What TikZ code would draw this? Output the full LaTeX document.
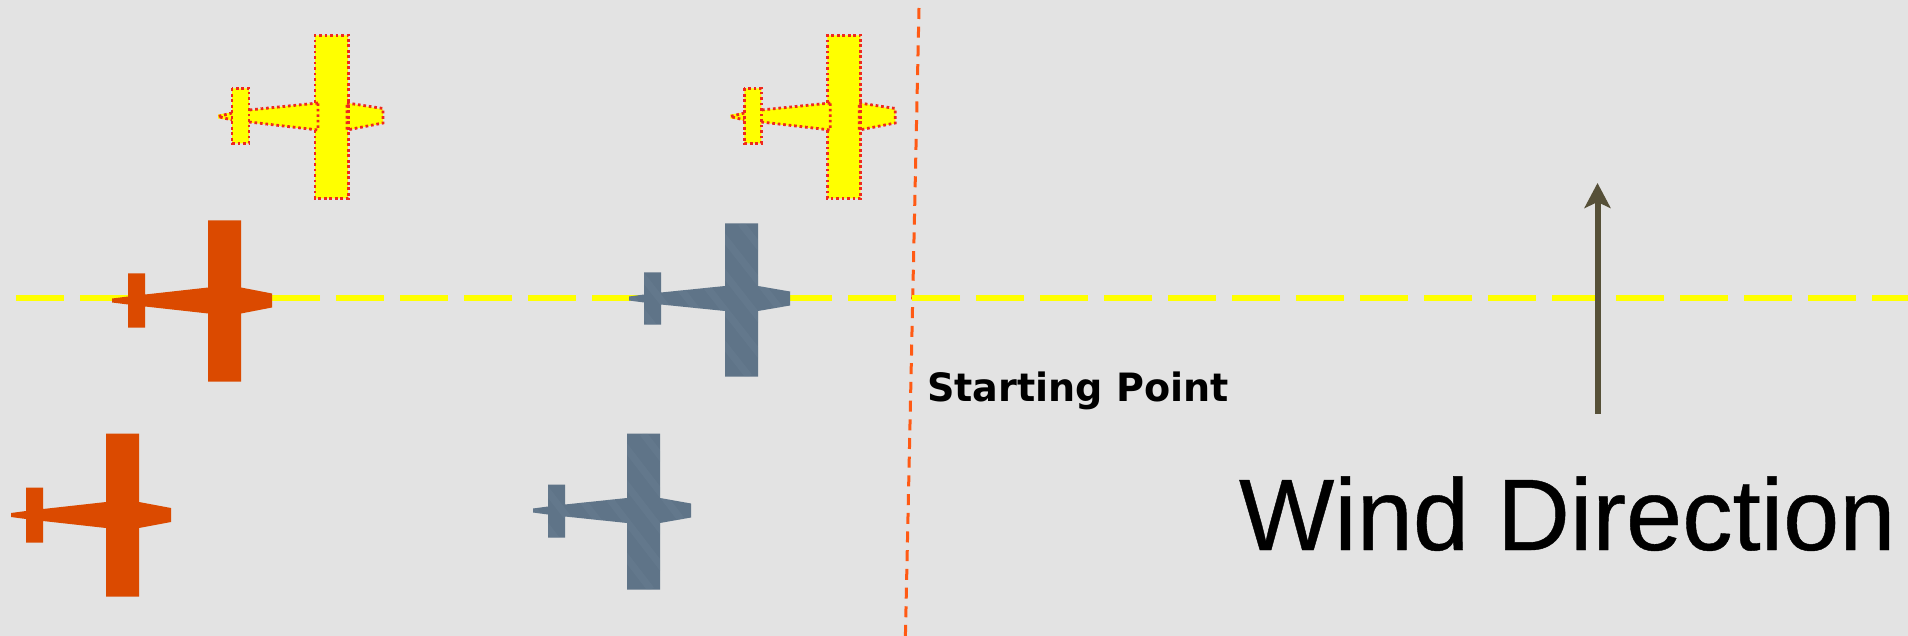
\documentclass[tikz,border=0pt]{standalone}
\usepackage{fontspec}
\usepackage{graphicx}
\usetikzlibrary{arrows.meta}
\setmainfont{Liberation Sans}
\newfontfamily\labelfont{DejaVu Sans}
\newfontfamily\windfont[FakeBold=0.4]{Liberation Sans}
\definecolor{bgc}{HTML}{E3E3E3}
\definecolor{orangeplane}{HTML}{DB4A00}
\definecolor{blueplane}{HTML}{5F7488}
\definecolor{bluestreak}{HTML}{7A8FA2}
\definecolor{startline}{HTML}{FF5A14}
\definecolor{pathline}{HTML}{FFFF00}
\definecolor{windarrow}{HTML}{565038}
\definecolor{dotred}{HTML}{F0281E}
\newcommand\planebh{13}
% tip, fin left, wing left, tail, fin top, fin bottom, wing top, wing bottom, centre y
\newcommand\planeshape[9]{
  ({#1},{#9-2}) -- ({#2},{#9-4}) -- ({#2},{#5}) -- ({#2+17},{#5}) -- ({#2+17},{#9-6})
  -- ({#3},{#9-\planebh}) -- ({#3},{#7}) -- ({#3+33},{#7}) -- ({#3+33},{#9-\planebh})
  -- ({#4},{#9-7}) -- ({#4},{#9+7}) -- ({#3+33},{#9+\planebh}) -- ({#3+33},{#8})
  -- ({#3},{#8}) -- ({#3},{#9+\planebh}) -- ({#2+17},{#9+6}) -- ({#2+17},{#6})
  -- ({#2},{#6}) -- ({#2},{#9+4}) -- ({#1},{#9+2}) -- cycle
}
\newcommand\blueplanedraw[9]{
  \begin{scope}
    \clip \planeshape{#1}{#2}{#3}{#4}{#5}{#6}{#7}{#8}{#9};
    \fill[blueplane] ({#1-2},{#7-2}) rectangle ({#4+2},{#8+2});
    \foreach \sx in {-120,-92,...,120}
      \draw[bluestreak,line width=7pt,opacity=.18]
        ({#3+\sx-60},{#7}) -- ({#3+\sx+60},{#8});
  \end{scope}
}
\tikzset{
  x=1pt,y=-1pt,
  dotline/.style={dotred,line width=2.8pt,dash pattern=on 2.7pt off 2.8pt},
  yellowfill/.style={fill=pathline},
  orangefill/.style={fill=orangeplane},
  startdash/.style={startline,line width=3pt,dash pattern=on 11pt off 7.7pt},
  pathdash/.style={pathline,line width=6pt,dash pattern=on 48pt off 16pt},
  windline/.style={windarrow,line width=6pt,-{Stealth[length=25pt,width=26pt,inset=6pt]}},
  txt/.style={inner sep=0pt,outer sep=0pt,anchor=base west,text=black}
}
\begin{document}
\begin{tikzpicture}
\fill[bgc] (0,0) rectangle (1908,636);
\useasboundingbox (0,0) rectangle (1908,636);

\coordinate (startTop) at (919,8);
\coordinate (startBot) at (905.4,636);
\draw[startdash] (startTop) -- (startBot);

\coordinate (pathL) at (16,298.3);
\coordinate (pathR) at (1908,298.3);
\draw[pathdash] (pathL) -- (pathR);

\coordinate (windBot) at (1597.5,413.5);
\coordinate (windTop) at (1597.5,183);
\draw[windline] (windBot) -- (windTop);

% orange planes
\fill[orangefill] \planeshape{112}{128}{208}{272}{273.5}{327.5}{220.5}{381.5}{300.5};
\fill[orangefill] \planeshape{11}{26}{106}{171}{487.5}{542.5}{433.5}{596.5}{515};

% blue planes
\renewcommand\planebh{12.5}
\blueplanedraw{629}{644}{725}{790}{272.5}{324.5}{223.5}{376.5}{298.5}
\blueplanedraw{533}{548}{627}{691}{484.5}{537.5}{433.5}{589.5}{510.5}
\renewcommand\planebh{13.5}

% yellow planes
\foreach \dx in {0,512.3}{
  \begin{scope}[xshift=\dx pt]
    \fill[yellowfill] \planeshape{218}{232}{315}{383}{88.5}{143.5}{35.5}{198.5}{116.5};
    \draw[dotline] (232,113) -- (218,116.5) -- (232,120);
    \draw[dotline] (232,88.5) rectangle (249,143.5);
    \draw[dotline] (318,103) -- (249,110);
    \draw[dotline] (249,122) -- (318,130) -- (318,103);
    \draw[dotline] (315,103) -- (315,35.5) -- (348.5,35.5) -- (348.5,198.5) -- (315,198.5) -- (315,130);
    \draw[dotline] (347,103) -- (383,108.5) -- (383,123) -- (347,130) -- cycle;
  \end{scope}
}

\node[txt] (startLabel) at (927,401)
  {\scalebox{.977}[1]{\labelfont\bfseries\fontsize{39}{40}\selectfont Starting Point}};
\node[txt] (windLabel) at (1239,550)
  {\scalebox{.993}[1]{\windfont\fontsize{101.7}{102}\selectfont Wind Direction}};
\end{tikzpicture}
\end{document}
